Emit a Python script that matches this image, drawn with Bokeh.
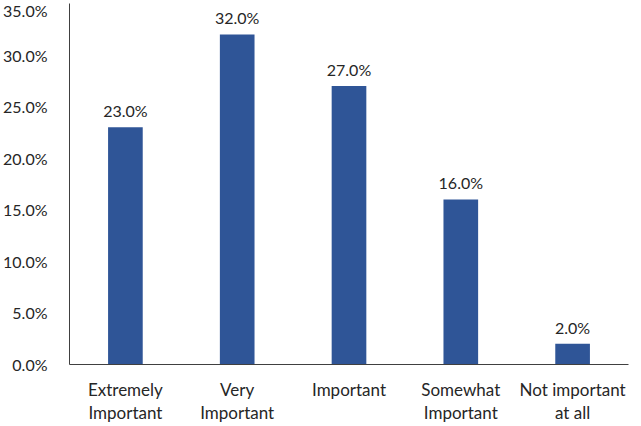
from bokeh.plotting import figure
from bokeh.models import ColumnDataSource, FixedTicker, PrintfTickFormatter, FactorRange
from bokeh.core.properties import value
from bokeh.embed import file_html
from bokeh.resources import INLINE

categories = ["Extremely\nImportant", "Very\nImportant", "Important", "Somewhat\nImportant", "Not important\nat all"]
values = [23.0, 32.0, 27.0, 16.0, 2.0]
labels = ["%.1f%%" % v for v in values]
y_ticks = [0, 5, 10, 15, 20, 25, 30, 35]

FONT = "Lato"
TXT = "#262626"
BAR = "#2F5597"

src = ColumnDataSource(data=dict(cat=categories, val=values, lab=labels))

p = figure(x_range=FactorRange(factors=categories), y_range=(0, 35),
           width=630, height=425, output_backend="svg", toolbar_location=None,
           min_border_left=60, min_border_right=2, min_border_top=3, min_border_bottom=50)
p.outline_line_color = None
p.xgrid.visible = False
p.ygrid.visible = False

p.vbar(x="cat", top="val", width=0.31, source=src, fill_color=BAR, line_color=None)
p.text(x="cat", y="val", text="lab", source=src, text_align="center", text_baseline="bottom",
       y_offset=-7, text_font=value(FONT), text_font_size="16px", text_color=TXT)

p.yaxis.ticker = FixedTicker(ticks=y_ticks)
p.yaxis.formatter = PrintfTickFormatter(format="%.1f%%")
p.yaxis.major_tick_line_color = None
p.yaxis.minor_tick_line_color = None
p.yaxis.axis_line_color = "#404040"
p.yaxis.major_label_text_font = FONT
p.yaxis.major_label_text_font_size = "16px"
p.yaxis.major_label_text_color = TXT
p.yaxis.major_label_standoff = 16

p.xaxis.major_tick_line_color = None
p.xaxis.minor_tick_line_color = None
p.xaxis.axis_line_color = "#404040"
p.xaxis.major_label_text_font = FONT
p.xaxis.major_label_text_font_size = "17px"
p.xaxis.major_label_text_color = TXT
p.xaxis.major_label_standoff = 8
p.xaxis.major_label_text_line_height = 1.1

open("out.html", "w").write(file_html(p, INLINE))
